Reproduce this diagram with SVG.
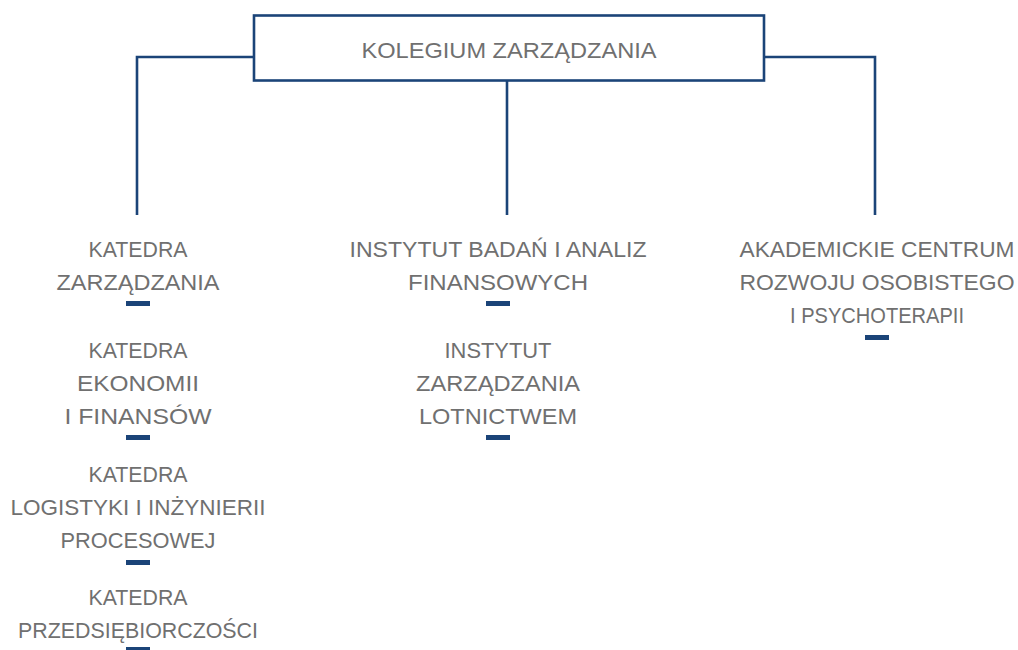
<svg xmlns="http://www.w3.org/2000/svg" width="1018" height="650" viewBox="0 0 1018 650">
<style>
.t{font-family:"Liberation Sans",Arial,sans-serif;font-size:22px;fill:#707070;text-anchor:middle}
.ln{fill:none;stroke:#1b4478;stroke-width:2.6}
.d{fill:#1b4478}
</style>
<rect width="1018" height="650" fill="#ffffff"/>
<g id="connectors">
<polyline class="ln" points="254,57 137,57 137,215"/>
<line class="ln" x1="507" y1="80" x2="507" y2="215"/>
<polyline class="ln" points="764,57 875,57 875,215"/>
</g>
<g id="root">
<rect class="ln" x="254" y="15.5" width="510" height="65" fill="#ffffff"/>
<text class="t" x="509" y="57.5" textLength="295" lengthAdjust="spacingAndGlyphs">KOLEGIUM ZARZĄDZANIA</text>
</g>
<g id="katedra-zarzadzania">
<text class="t" x="138" y="257" textLength="99" lengthAdjust="spacingAndGlyphs">KATEDRA</text>
<text class="t" x="138" y="290" textLength="163" lengthAdjust="spacingAndGlyphs">ZARZĄDZANIA</text>
<rect class="d" x="126" y="301" width="24" height="5"/>
</g>
<g id="katedra-ekonomii">
<text class="t" x="138" y="358" textLength="99" lengthAdjust="spacingAndGlyphs">KATEDRA</text>
<text class="t" x="138" y="391" textLength="122" lengthAdjust="spacingAndGlyphs">EKONOMII</text>
<text class="t" x="138" y="424" textLength="147" lengthAdjust="spacingAndGlyphs">I FINANSÓW</text>
<rect class="d" x="126" y="435" width="24" height="5"/>
</g>
<g id="katedra-logistyki">
<text class="t" x="138" y="482" textLength="99" lengthAdjust="spacingAndGlyphs">KATEDRA</text>
<text class="t" x="138" y="515" textLength="255" lengthAdjust="spacingAndGlyphs">LOGISTYKI I INŻYNIERII</text>
<text class="t" x="138" y="548" textLength="155" lengthAdjust="spacingAndGlyphs">PROCESOWEJ</text>
<rect class="d" x="126" y="560" width="24" height="5"/>
</g>
<g id="katedra-przedsiebiorczosci">
<text class="t" x="138" y="605" textLength="99" lengthAdjust="spacingAndGlyphs">KATEDRA</text>
<text class="t" x="138" y="638" textLength="240" lengthAdjust="spacingAndGlyphs">PRZEDSIĘBIORCZOŚCI</text>
<rect class="d" x="126" y="647" width="24" height="5"/>
</g>
<g id="instytut-badan">
<text class="t" x="498" y="257" textLength="297" lengthAdjust="spacingAndGlyphs">INSTYTUT BADAŃ I ANALIZ</text>
<text class="t" x="498" y="290" textLength="180" lengthAdjust="spacingAndGlyphs">FINANSOWYCH</text>
<rect class="d" x="486" y="301" width="24" height="5"/>
</g>
<g id="instytut-lotnictwa">
<text class="t" x="498" y="358" textLength="107" lengthAdjust="spacingAndGlyphs">INSTYTUT</text>
<text class="t" x="498" y="391" textLength="164" lengthAdjust="spacingAndGlyphs">ZARZĄDZANIA</text>
<text class="t" x="498" y="424" textLength="158" lengthAdjust="spacingAndGlyphs">LOTNICTWEM</text>
<rect class="d" x="486" y="435" width="24" height="5"/>
</g>
<g id="akademickie-centrum">
<text class="t" x="877" y="257" textLength="275" lengthAdjust="spacingAndGlyphs">AKADEMICKIE CENTRUM</text>
<text class="t" x="877" y="290" textLength="275" lengthAdjust="spacingAndGlyphs">ROZWOJU OSOBISTEGO</text>
<text class="t" x="877" y="323" textLength="174" lengthAdjust="spacingAndGlyphs">I PSYCHOTERAPII</text>
<rect class="d" x="865" y="335" width="24" height="5"/>
</g>
</svg>
